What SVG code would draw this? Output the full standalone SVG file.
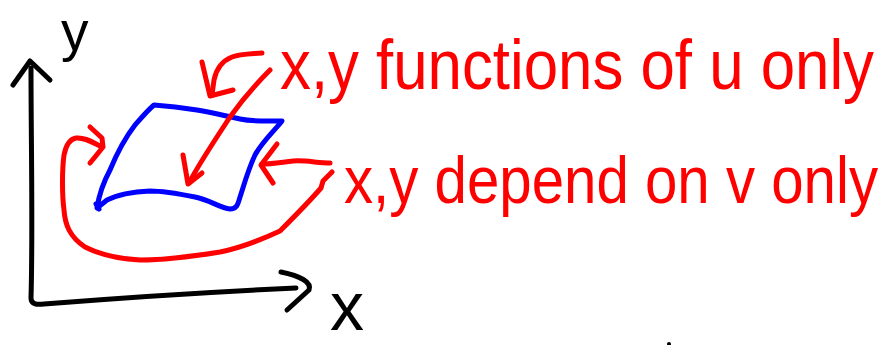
<svg xmlns="http://www.w3.org/2000/svg" width="888" height="345" viewBox="0 0 888 345">
<style>
.ink{fill:none;stroke-linecap:round;stroke-linejoin:round;stroke-width:5}
.k{stroke:#000}
.r{stroke:#ff0000}
.b{stroke:#0000ff}
.lbl{font-family:"Liberation Sans",Arial,sans-serif;fill:#ff0000}
.ax{font-family:"Liberation Sans",Arial,sans-serif;fill:#000}
</style>
<rect width="888" height="345" fill="#fff"/>
<g id="axes">
<path class="ink k" d="M31 68 C31 140 33 230 31 298 C31 304 36 305 44 304 C120 298 210 292 296 288"/>
<path class="ink k" d="M13 85 L30 61 L50 80"/>
<path class="ink k" d="M281 272 C300 276 312 282 309 290 L287 310"/>
<text class="ax" x="61" y="50" font-size="55">y</text>
<text class="ax" x="330" y="330" font-size="68">x</text>
<circle cx="669" cy="344" r="2" fill="#000"/>
</g>
<g id="surface">
<path class="ink b" d="M154 105 C170 106 185 108 197 110 C215 113 225 116 240 119 C255 122 268 121 282 121 C275 130 262 142 255 155 C248 170 244 185 240 197 C238 204 237 209 230 209 C220 208 210 200 195 197 C180 194 165 191 150 191 C130 192 117 195 107 200 L97 208 C99 195 103 183 110 170 C117 153 125 138 135 125 C142 117 148 110 154 105 Z"/>
<path class="ink b" d="M96 204 L99 209"/>
</g>
<g id="connectors">
<path class="ink r" d="M262 53 C250 54 240 54 232 57 C222 61 216 70 214 80 L212 95"/>
<path class="ink r" d="M202 62 L210 96 L233 90"/>
<path class="ink r" d="M270 70 C255 85 240 103 230 117 C215 140 200 162 189 183"/>
<path class="ink r" d="M183 155 L188 184 L202 173"/>
<path class="ink r" d="M330 163 C318 163 305 160 293 161 C283 162 272 164 262 164"/>
<path class="ink r" d="M277 144 L261 165 L273 183"/>
<path class="ink r" d="M332 172 L323 181 L321 188 C308 203 293 218 280 231 C265 238 245 247 220 252 C195 256 165 260 140 260 C120 259 103 256 85 247 C70 237 65 225 64 210 C62 195 62 170 64 155 C66 145 70 139 76 138 C84 137 92 142 100 146"/>
<path class="ink r" d="M90 127 L102 138 L103 147 L95 157 L90 163"/>
</g>
<g id="labels">
<text class="lbl" transform="translate(280 89) scale(1 1.15)" font-size="61.5" textLength="594" lengthAdjust="spacingAndGlyphs">x,y functions of u only</text>
<text class="lbl" transform="translate(344 203) scale(1 1.15)" font-size="58.5" textLength="534" lengthAdjust="spacingAndGlyphs">x,y depend on v only</text>
</g>
</svg>
